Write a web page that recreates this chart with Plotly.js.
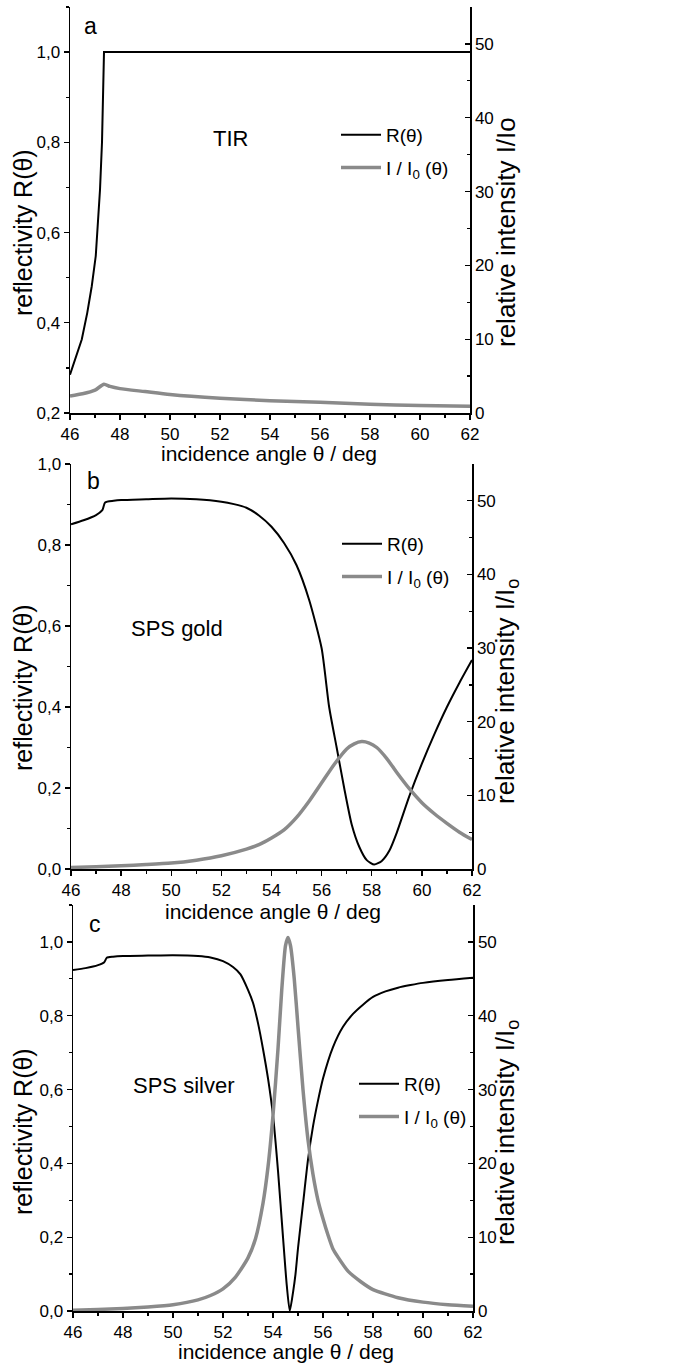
<!DOCTYPE html>
<html>
<head>
<meta charset="utf-8">
<script src="https://cdn.plot.ly/plotly-3.0.1.min.js"></script>
<style>html,body{margin:0;padding:0;background:#fff;}</style>
</head>
<body>
<div id="chart" style="width:684px;height:1364px;"></div>
<script>
// ---------- Panel a: TIR ----------
const angleA_R = [46.0, 46.2, 46.47, 46.69, 46.87, 47.03, 47.11, 47.2, 47.28, 47.36, 48, 50, 52, 54, 56, 58, 60, 62];
const reflA    = [0.285, 0.318, 0.363, 0.422, 0.481, 0.548, 0.607, 0.695, 0.80, 1.0, 1.0, 1.0, 1.0, 1.0, 1.0, 1.0, 1.0, 1.0];
const angleA_I = [46.0, 46.5, 47.0, 47.36, 47.6, 48, 49, 50, 52, 54, 56, 58, 60, 62];
const intenA   = [2.3, 2.6, 3.1, 3.9, 3.6, 3.3, 2.9, 2.5, 2.0, 1.67, 1.44, 1.2, 1.0, 0.9];

// ---------- Panel b: SPS gold ----------
const angleB_R = [46, 46.5, 47.0, 47.25, 47.36, 47.7, 48, 49, 50, 51, 52, 52.5, 53, 53.5, 54, 54.5, 55, 55.5, 56.0, 56.3, 56.6, 56.9, 57.2, 57.5, 57.8, 58.1, 58.4, 58.7, 59.0, 59.5, 60.0, 60.5, 61.0, 61.5, 62];
const reflB    = [0.851, 0.861, 0.874, 0.886, 0.905, 0.909, 0.911, 0.913, 0.915, 0.913, 0.907, 0.901, 0.892, 0.873, 0.845, 0.805, 0.75, 0.665, 0.545, 0.40, 0.30, 0.20, 0.11, 0.055, 0.022, 0.011, 0.02, 0.045, 0.09, 0.18, 0.26, 0.333, 0.40, 0.46, 0.516];
const angleB_I = [46, 47, 48, 49, 50, 51, 52, 53, 53.5, 54, 54.5, 55, 55.5, 56, 56.5, 57, 57.3, 57.6, 57.9, 58.2, 58.6, 59, 59.5, 60, 60.5, 61, 61.5, 62];
const intenB   = [0.2, 0.3, 0.45, 0.6, 0.8, 1.2, 1.8, 2.7, 3.3, 4.2, 5.3, 7.0, 9.2, 11.7, 14.2, 16.3, 17.0, 17.3, 17.1, 16.5, 15.0, 13.1, 10.9, 9.0, 7.5, 6.2, 5.0, 4.0];

// ---------- Panel c: SPS silver ----------
const angleC_R = [46, 46.5, 47.0, 47.25, 47.35, 47.6, 48, 49, 50, 51, 51.5, 52, 52.4, 52.7, 53, 53.2, 53.4, 53.6, 53.8, 54.0, 54.2, 54.4, 54.55, 54.67, 54.8, 54.9, 55.0, 55.2, 55.4, 55.6, 55.8, 56.0, 56.4, 56.8, 57.2, 57.6, 58, 58.5, 59, 59.5, 60, 61, 62];
const reflC    = [0.924, 0.929, 0.937, 0.945, 0.957, 0.96, 0.962, 0.963, 0.964, 0.962, 0.958, 0.948, 0.932, 0.912, 0.87, 0.835, 0.78, 0.71, 0.63, 0.53, 0.38, 0.20, 0.07, 0.0, 0.05, 0.10, 0.17, 0.29, 0.41, 0.50, 0.57, 0.63, 0.715, 0.77, 0.805, 0.83, 0.851, 0.866, 0.876, 0.883, 0.889, 0.897, 0.903];
const angleC_I = [46, 47, 48, 49, 50, 51, 51.5, 52, 52.5, 53, 53.3, 53.6, 53.8, 54.0, 54.2, 54.35, 54.5, 54.6, 54.7, 54.85, 55.0, 55.2, 55.4, 55.6, 55.8, 56.0, 56.2, 56.4, 56.6, 57.0, 57.5, 58, 59, 60, 61, 62];
const intenC   = [0.1, 0.2, 0.35, 0.55, 0.85, 1.5, 2.1, 3.0, 4.6, 7.2, 9.8, 14.6, 19.5, 26.5, 35.5, 43.5, 49.5, 50.6, 49.5, 45, 38.5, 30, 23.2, 18.5, 15.0, 12.5, 10.3, 8.4, 7.3, 5.4, 4.0, 2.9, 1.8, 1.2, 0.85, 0.63];

// ---------- labels ----------
const panelLetters = ['a', 'b', 'c'];
const panelNames = ['TIR', 'SPS gold', 'SPS silver'];
const xTitle = 'incidence angle θ / deg';
const yLeftTitle = 'reflectivity R(θ)';
const yRightTitles = ['relative intensity I/Io', 'relative intensity I/I<sub>o</sub>', 'relative intensity I/I<sub>o</sub>'];
const legendR = 'R(θ)';
const legendI = 'I / I<sub>0</sub> (θ)';

const W = 684, H = 1364;
const px = v => v / W;
const py = v => 1 - v / H;

const SANS = '"Liberation Sans", Arial, sans-serif';
const BLACK = '#000000';
const GRAY = '#8a8a8a';

const traces = [];
function addPanel(n, xs1, ys1, xs2, ys2, shapeR) {
  const xa = n === 1 ? 'x' : 'x' + n;
  const yl = n === 1 ? 'y' : 'y' + (2 * n - 1);
  const yr = 'y' + (2 * n);
  const lg = n === 1 ? 'legend' : 'legend' + n;
  traces.push({x: xs1, y: ys1, xaxis: xa, yaxis: yl, type: 'scatter', mode: 'lines',
    name: legendR, legend: lg, legendgroup: 'r' + n,
    line: {color: BLACK, width: 2, shape: shapeR, smoothing: 0.6}});
  traces.push({x: xs2, y: ys2, xaxis: xa, yaxis: yr, type: 'scatter', mode: 'lines',
    name: legendI, legend: lg, legendgroup: 'i' + n,
    line: {color: GRAY, width: 3.5, shape: 'spline', smoothing: 0.6}});
}
addPanel(1, angleA_R, reflA, angleA_I, intenA, 'linear');
addPanel(2, angleB_R, reflB, angleB_I, intenB, 'spline');
addPanel(3, angleC_R, reflC, angleC_I, intenC, 'spline');

// geometry (pixels) of the three plot areas
const boxes = [
  {x0: 70, x1: 470, top: 7, bottom: 413, yl: [0.2, 1.1]},
  {x0: 71, x1: 472, top: 464, bottom: 869, yl: [0, 1.0]},
  {x0: 73, x1: 473, top: 905, bottom: 1311, yl: [0, 1.1]}
];

const layout = {
  width: W, height: H, autosize: false,
  margin: {l: 0, r: 0, t: 0, b: 0, pad: 0},
  paper_bgcolor: '#ffffff', plot_bgcolor: 'rgba(0,0,0,0)',
  separators: ',.',
  font: {family: SANS, size: 17, color: BLACK},
  showlegend: true,
  annotations: [],
  shapes: []
};

const tickFont = {family: SANS, size: 17, color: BLACK};

boxes.forEach((b, i) => {
  const n = i + 1;
  const xk = n === 1 ? 'xaxis' : 'xaxis' + n;
  const ylk = n === 1 ? 'yaxis' : 'yaxis' + (2 * n - 1);
  const yrk = 'yaxis' + (2 * n);
  const yl = n === 1 ? 'y' : 'y' + (2 * n - 1);
  const xa = n === 1 ? 'x' : 'x' + n;
  const ydom = [py(b.bottom), py(b.top)];
  layout[xk] = {
    domain: [px(b.x0), px(b.x1)], anchor: yl, range: [46, 62],
    tickmode: 'linear', tick0: 46, dtick: 2,
    ticks: 'outside', ticklen: 5, tickwidth: 1.3, tickcolor: BLACK,
    minor: {ticks: 'outside', dtick: 1, tick0: 46, ticklen: 3, tickwidth: 1.3, tickcolor: BLACK, showgrid: false},
    showline: true, linecolor: BLACK, linewidth: 1.5, mirror: false,
    showgrid: false, zeroline: false, tickfont: tickFont, fixedrange: true
  };
  layout[ylk] = {
    domain: ydom, anchor: xa, range: b.yl,
    tickmode: 'linear', tick0: 0, dtick: 0.2, tickformat: '.1f',
    ticks: 'outside', ticklen: 5, tickwidth: 1.3, tickcolor: BLACK,
    minor: {ticks: 'outside', dtick: 0.1, tick0: 0, ticklen: 3, tickwidth: 1.3, tickcolor: BLACK, showgrid: false},
    showline: true, linecolor: BLACK, linewidth: 1.5,
    showgrid: false, zeroline: false, tickfont: tickFont, fixedrange: true
  };
  layout[yrk] = {
    domain: ydom, anchor: xa, overlaying: yl, side: 'right', range: [0, 55],
    tickmode: 'linear', tick0: 0, dtick: 10,
    ticks: 'inside', ticklen: 5, tickwidth: 1.3, tickcolor: BLACK,
    minor: {ticks: 'inside', dtick: 5, tick0: 0, ticklen: 3, tickwidth: 1.3, tickcolor: BLACK, showgrid: false},
    showline: true, linecolor: BLACK, linewidth: 1.5,
    showgrid: false, zeroline: false, tickfont: tickFont, fixedrange: true
  };
});

// legends
const legendPos = [
  {x: 336, y: 116},
  {x: 337, y: 525},
  {x: 354, y: 1065}
];
legendPos.forEach((p, i) => {
  const key = i === 0 ? 'legend' : 'legend' + (i + 1);
  layout[key] = {
    x: px(p.x), y: py(p.y), xanchor: 'left', yanchor: 'top',
    xref: 'paper', yref: 'paper',
    bgcolor: 'rgba(0,0,0,0)', borderwidth: 0,
    font: {family: SANS, size: 19, color: BLACK},
    itemwidth: 40, traceorder: 'grouped', tracegroupgap: 5,
    itemclick: false, itemdoubleclick: false
  };
});

// panel letters and names
const letterPos = [[90, 26], [93, 481], [95, 924]];
const namePos = [[230, 138], [177, 628], [183, 1085]];
panelLetters.forEach((t, i) => {
  layout.annotations.push({text: t, xref: 'paper', yref: 'paper',
    x: px(letterPos[i][0]), y: py(letterPos[i][1]), xanchor: 'center', yanchor: 'middle',
    showarrow: false, font: {family: SANS, size: 23, color: BLACK}});
  layout.annotations.push({text: panelNames[i], xref: 'paper', yref: 'paper',
    x: px(namePos[i][0]), y: py(namePos[i][1]), xanchor: 'center', yanchor: 'middle',
    showarrow: false, font: {family: SANS, size: 22, color: BLACK}});
});

// axis titles (placed as annotations to match original offsets)
const xTitlePos = [[269, 454], [273, 911], [286, 1351]];
const yLeftPos = [[23, 233], [23, 688], [23, 1132]];
const yRightPos = [[506, 232], [506, 692], [506, 1133]];
for (let i = 0; i < 3; i++) {
  layout.annotations.push({text: xTitle, xref: 'paper', yref: 'paper',
    x: px(xTitlePos[i][0]), y: py(xTitlePos[i][1]), xanchor: 'center', yanchor: 'middle',
    showarrow: false, font: {family: SANS, size: 21, color: BLACK}});
  layout.annotations.push({text: yLeftTitle, xref: 'paper', yref: 'paper', textangle: -90,
    x: px(yLeftPos[i][0]), y: py(yLeftPos[i][1]), xanchor: 'center', yanchor: 'middle',
    showarrow: false, font: {family: SANS, size: 25, color: BLACK}});
  layout.annotations.push({text: yRightTitles[i], xref: 'paper', yref: 'paper', textangle: -90,
    x: px(yRightPos[i][0]), y: py(yRightPos[i][1]), xanchor: 'center', yanchor: 'middle',
    showarrow: false, font: {family: SANS, size: 26, color: BLACK}});
}

Plotly.newPlot('chart', traces, layout, {displayModeBar: false, staticPlot: true});
</script>
</body>
</html>
